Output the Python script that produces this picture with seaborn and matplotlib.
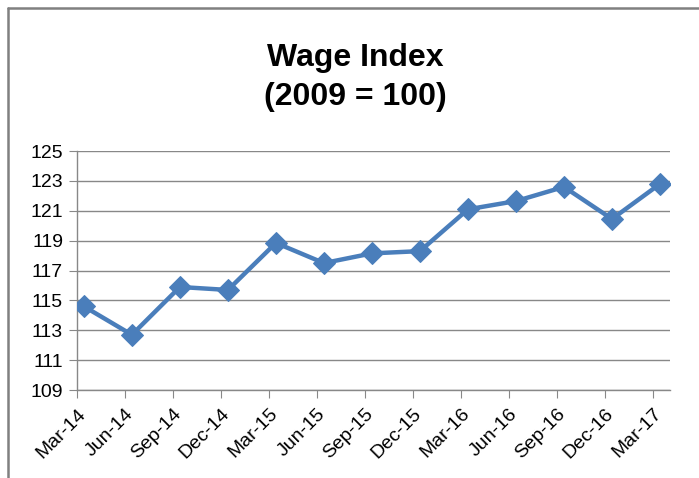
import matplotlib
matplotlib.use("Agg")
import matplotlib.pyplot as plt
import seaborn as sns
import pandas as pd
from matplotlib.lines import Line2D

quarters = ["Mar-14", "Jun-14", "Sep-14", "Dec-14", "Mar-15", "Jun-15", "Sep-15",
            "Dec-15", "Mar-16", "Jun-16", "Sep-16", "Dec-16", "Mar-17"]
wage_index = [114.6, 112.7, 115.9, 115.7, 118.85, 117.5, 118.15,
              118.3, 121.1, 121.65, 122.6, 120.45, 122.8]
y_ticks = [109, 111, 113, 115, 117, 119, 121, 123, 125]

df = pd.DataFrame({"pos": range(len(quarters)), "value": wage_index})

sns.set_style("white")
plt.rcParams["font.family"] = ["Liberation Sans", "DejaVu Sans"]
plt.rcParams["text.color"] = "black"
plt.rcParams["xtick.color"] = "black"
plt.rcParams["ytick.color"] = "black"

fig = plt.figure(figsize=(6.99, 4.78), dpi=100)
ax = fig.add_axes([0.110, 0.184, 0.8485, 0.500])

sns.lineplot(data=df, x="pos", y="value", ax=ax, color="#4A7EBB", linewidth=3.2,
             marker="D", markersize=11, markeredgecolor="#4A7EBB", zorder=3)

off = 7 / 48
ax.set_xlim(-off, 12 + 10 / 48)
ax.set_ylim(109, 125)
ax.set_yticks(y_ticks)
ax.set_yticklabels([str(t) for t in y_ticks], fontsize=14)
ax.set_xticks([i - off for i in range(len(quarters))])
ax.set_xticklabels(quarters, rotation=45, ha="right", rotation_mode="anchor", fontsize=14)
ax.tick_params(axis="x", length=6, color="#888888", labelcolor="black", pad=5,
               direction="out", bottom=True)
ax.tick_params(axis="y", length=6, color="#888888", labelcolor="black", pad=4,
               direction="out", left=True)
ax.grid(axis="y", color="#888888", linewidth=1.0)
ax.set_axisbelow(True)
for s in ["top", "right"]:
    ax.spines[s].set_visible(False)
for s in ["left", "bottom"]:
    ax.spines[s].set_color("#888888")
    ax.spines[s].set_linewidth(1.0)
ax.set_xlabel("")
ax.set_ylabel("")

fig.text(0.508, 0.838, "Wage Index\n(2009 = 100)", ha="center", va="center",
         fontsize=23, fontweight="bold", linespacing=1.42, color="black")

# chart frame: only left and top edges are visible in the reference
fx = 8 / 699
fy = 1 - 8 / 478
fig.lines.append(Line2D([fx, fx], [0, fy], transform=fig.transFigure,
                        color="#808080", linewidth=1.8))
fig.lines.append(Line2D([fx, 1], [fy, fy], transform=fig.transFigure,
                        color="#808080", linewidth=1.8))

fig.savefig("out.png", dpi=100)
